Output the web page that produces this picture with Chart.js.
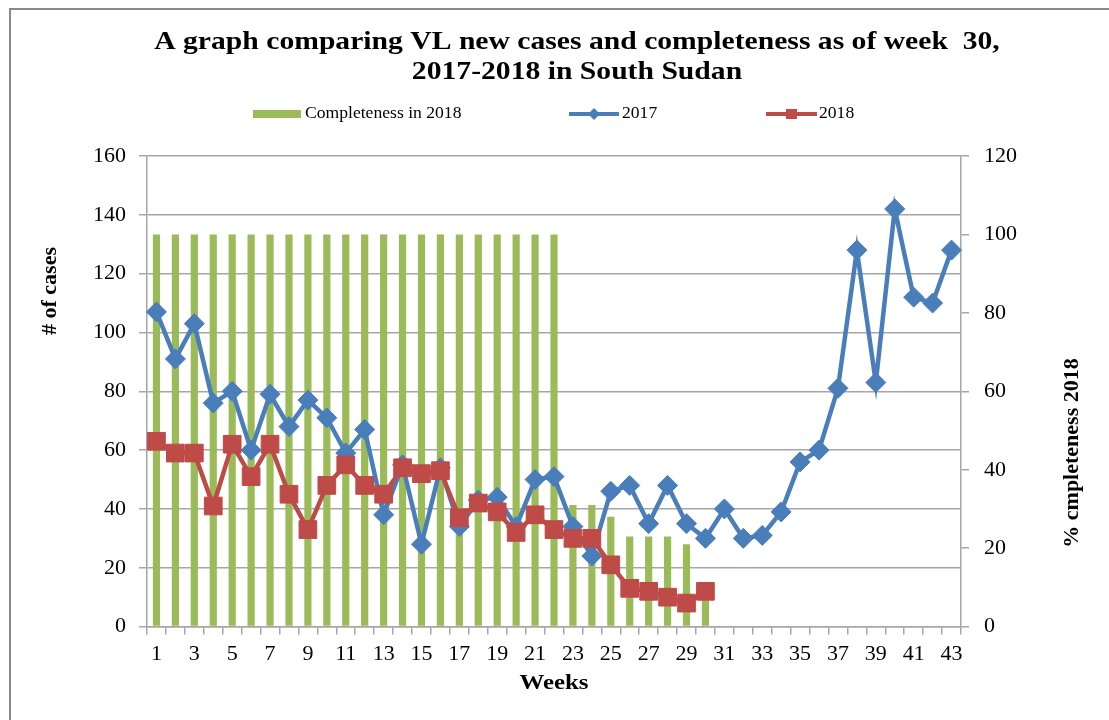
<!DOCTYPE html>
<html>
<head>
<meta charset="utf-8">
<title>VL new cases and completeness</title>
<script src="https://cdn.jsdelivr.net/npm/chart.js@4.4.1/dist/chart.umd.min.js"></script>
<style>
  html, body { margin: 0; padding: 0; background: #fff; }
  #wrap { width: 1109px; height: 720px; position: relative; }
</style>
</head>
<body>
<div id="wrap"><canvas id="chart" width="1109" height="720"></canvas></div>
<script>
// ===== Data =====
const weeks = ['1', '2', '3', '4', '5', '6', '7', '8', '9', '10',
  '11', '12', '13', '14', '15', '16', '17', '18', '19', '20',
  '21', '22', '23', '24', '25', '26', '27', '28', '29', '30',
  '31', '32', '33', '34', '35', '36', '37', '38', '39', '40',
  '41', '42', '43'];

const cases2017 = [107, 91, 103, 76, 80, 60, 79, 68, 77, 71,
  59, 67, 38, 55, 28, 54, 34, 43, 44, 34,
  50, 51, 34, 24, 46, 48, 35, 48, 35, 30,
  40, 30, 31, 39, 56, 60, 81, 128, 83, 142,
  112, 110, 128];

const cases2018 = [63, 59, 59, 41, 62, 51, 62, 45, 33, 48,
  55, 48, 45, 54, 52, 53, 37, 42, 39, 32,
  38, 33, 30, 30, 21, 13, 12, 10, 8, 12,
  null, null, null, null, null, null, null, null, null, null,
  null, null, null];

const completeness2018 = [100, 100, 100, 100, 100, 100, 100, 100, 100, 100,
  100, 100, 100, 100, 100, 100, 100, 100, 100, 100,
  100, 100, 31, 31, 28, 23, 23, 23, 21, 9,
  null, null, null, null, null, null, null, null, null, null,
  null, null, null];

const casesTicks = { min: 0, max: 160, step: 20 };
const pctTicks = { min: 0, max: 120, step: 20 };

const GREEN = '#9BBB59';
const BLUE = '#4A7EBB';
const RED = '#BE4B48';
const GRID = '#a6a6a6';
const SERIF = '"Liberation Serif", "DejaVu Serif", serif';

// text stretched a little sideways, like the original picture
function wideText(ctx, text, x, y, sx, align) {
  ctx.save();
  ctx.translate(x, y);
  ctx.scale(sx, 1);
  ctx.textAlign = align || 'center';
  ctx.fillText(text, 0, 0);
  ctx.restore();
}

// ===== Title, legend, axis titles, frame =====
const decor = {
  id: 'decor',
  afterDraw(chart) {
    const ctx = chart.ctx;
    ctx.save();

    // outer frame
    ctx.strokeStyle = '#8a8a8a';
    ctx.lineWidth = 2;
    ctx.beginPath();
    ctx.moveTo(10, 720);
    ctx.lineTo(10, 9);
    ctx.lineTo(1109, 9);
    ctx.stroke();

    ctx.fillStyle = '#000';
    ctx.textBaseline = 'middle';

    // title
    ctx.font = 'bold 26px ' + SERIF;
    wideText(ctx, 'A graph comparing VL new cases and completeness as of week  30,', 577, 42, 1.14);
    wideText(ctx, '2017-2018 in South Sudan', 577, 72, 1.14);

    // legend
    const ly = 114;
    const ds = chart.data.datasets;
    ctx.font = '16px ' + SERIF;

    ctx.fillStyle = ds[0].backgroundColor;
    ctx.fillRect(253, ly - 4, 48, 8);
    ctx.fillStyle = '#000';
    wideText(ctx, ds[0].label, 305, ly, 1.1, 'left');

    ctx.strokeStyle = ds[1].borderColor;
    ctx.lineWidth = 4;
    ctx.beginPath();
    ctx.moveTo(569, ly);
    ctx.lineTo(619, ly);
    ctx.stroke();
    ctx.fillStyle = ds[1].borderColor;
    ctx.beginPath();
    ctx.moveTo(594, ly - 6);
    ctx.lineTo(600, ly);
    ctx.lineTo(594, ly + 6);
    ctx.lineTo(588, ly);
    ctx.closePath();
    ctx.fill();
    ctx.fillStyle = '#000';
    wideText(ctx, ds[1].label, 622, ly, 1.1, 'left');

    ctx.strokeStyle = ds[2].borderColor;
    ctx.beginPath();
    ctx.moveTo(766, ly);
    ctx.lineTo(817, ly);
    ctx.stroke();
    ctx.fillStyle = ds[2].borderColor;
    ctx.fillRect(786, ly - 5, 11, 10);
    ctx.fillStyle = '#000';
    wideText(ctx, ds[2].label, 819, ly, 1.1, 'left');

    // axis titles
    ctx.font = 'bold 22px ' + SERIF;
    wideText(ctx, 'Weeks', 554, 683, 1.13);

    ctx.textAlign = 'center';
    ctx.save();
    ctx.translate(50, 291);
    ctx.rotate(-Math.PI / 2);
    ctx.fillText('# of cases', 0, 0);
    ctx.restore();

    ctx.save();
    ctx.translate(1072, 453);
    ctx.rotate(-Math.PI / 2);
    ctx.fillText('% cmpleteness 2018', 0, 0);
    ctx.restore();

    ctx.restore();
  }
};

Chart.defaults.font.family = SERIF;
Chart.defaults.color = '#000';

new Chart(document.getElementById('chart'), {
  type: 'bar',
  data: {
    labels: weeks,
    datasets: [
      {
        type: 'bar',
        label: 'Completeness in 2018',
        data: completeness2018,
        yAxisID: 'y1',
        backgroundColor: GREEN,
        barPercentage: 0.38,
        categoryPercentage: 1,
        order: 2
      },
      {
        type: 'line',
        label: '2017',
        data: cases2017,
        yAxisID: 'y',
        borderColor: BLUE,
        backgroundColor: BLUE,
        borderWidth: 4.5,
        pointStyle: 'rectRot',
        pointRadius: 10,
        pointBorderWidth: 1,
        tension: 0,
        order: 1
      },
      {
        type: 'line',
        label: '2018',
        data: cases2018,
        yAxisID: 'y',
        borderColor: RED,
        backgroundColor: RED,
        borderWidth: 4.5,
        pointStyle: 'rect',
        pointRadius: 12.5,
        pointBorderWidth: 1,
        tension: 0,
        order: 0
      }
    ]
  },
  options: {
    responsive: false,
    animation: false,
    devicePixelRatio: 1,
    events: [],
    layout: { padding: { left: 80, right: 77, top: 156, bottom: 47 } },
    plugins: {
      legend: { display: false },
      title: { display: false },
      tooltip: { enabled: false }
    },
    scales: {
      x: {
        type: 'category',
        offset: true,
        grid: { offset: true, drawOnChartArea: false, tickLength: 8, color: GRID, lineWidth: 1.5 },
        border: { color: GRID, width: 1.5 },
        ticks: {
          autoSkip: false,
          maxRotation: 0,
          padding: 6,
          font: { size: 22 },
          callback: (v, i) => (i % 2 === 0 ? weeks[i] : '')
        }
      },
      y: {
        position: 'left',
        min: casesTicks.min,
        max: casesTicks.max,
        grid: { color: GRID, lineWidth: 1.5, tickLength: 8 },
        border: { color: GRID, width: 1.5 },
        ticks: { stepSize: casesTicks.step, padding: 13, font: { size: 22 } }
      },
      y1: {
        position: 'right',
        min: pctTicks.min,
        max: pctTicks.max,
        grid: { drawOnChartArea: false, color: GRID, lineWidth: 1.5, tickLength: 8 },
        border: { color: GRID, width: 1.5 },
        ticks: { stepSize: pctTicks.step, padding: 15, font: { size: 22 } }
      }
    }
  },
  plugins: [decor]
});
</script>
</body>
</html>
